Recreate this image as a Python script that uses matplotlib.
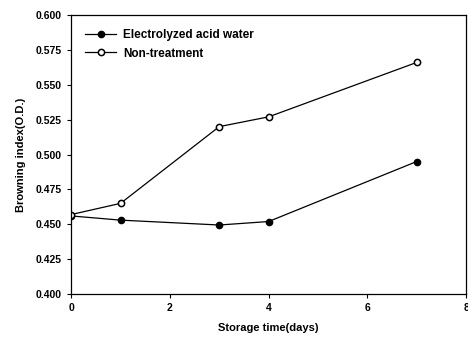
import matplotlib
matplotlib.use('Agg')
import matplotlib.pyplot as plt

# datos
dias = [0, 1, 3, 4, 7]
agua_acida = [0.456, 0.453, 0.4495, 0.452, 0.495]
sin_tratamiento = [0.457, 0.465, 0.520, 0.527, 0.566]
yticks = [0.400, 0.425, 0.450, 0.475, 0.500, 0.525, 0.550, 0.575, 0.600]
xticks = [0, 2, 4, 6, 8]

plt.rcParams['font.family'] = ['Liberation Sans', 'DejaVu Sans']
plt.rcParams['font.weight'] = 'bold'

fig = plt.figure(figsize=(4.68, 3.4), dpi=100)
ax = fig.add_axes([0.152, 0.135, 0.844, 0.821])

ax.plot(dias, agua_acida, '-o', color='black', lw=0.9, ms=4.5,
        mfc='black', label='Electrolyzed acid water')
ax.plot(dias, sin_tratamiento, '-o', color='black', lw=0.9, ms=4.5,
        mfc='white', mew=1.1, label='Non-treatment')

ax.set_xlim(0, 8)
ax.set_ylim(0.4, 0.6)
ax.set_xticks(xticks)
ax.set_yticks(yticks)
ax.set_yticklabels(['%.3f' % v for v in yticks])
ax.tick_params(labelsize=7.5, length=3, width=0.8, direction='out')
for s in ax.spines.values():
    s.set_linewidth(0.9)

ax.set_xlabel('Storage time(days)', fontsize=8, fontweight='bold', labelpad=7)
ax.set_ylabel('Browning index(O.D.)', fontsize=8, fontweight='bold', labelpad=7)

ax.legend(loc='upper left', frameon=False, fontsize=8.5, handlelength=2.6,
          borderaxespad=0.8, labelspacing=0.55, handletextpad=0.6)

fig.savefig('out.png', dpi=100)
